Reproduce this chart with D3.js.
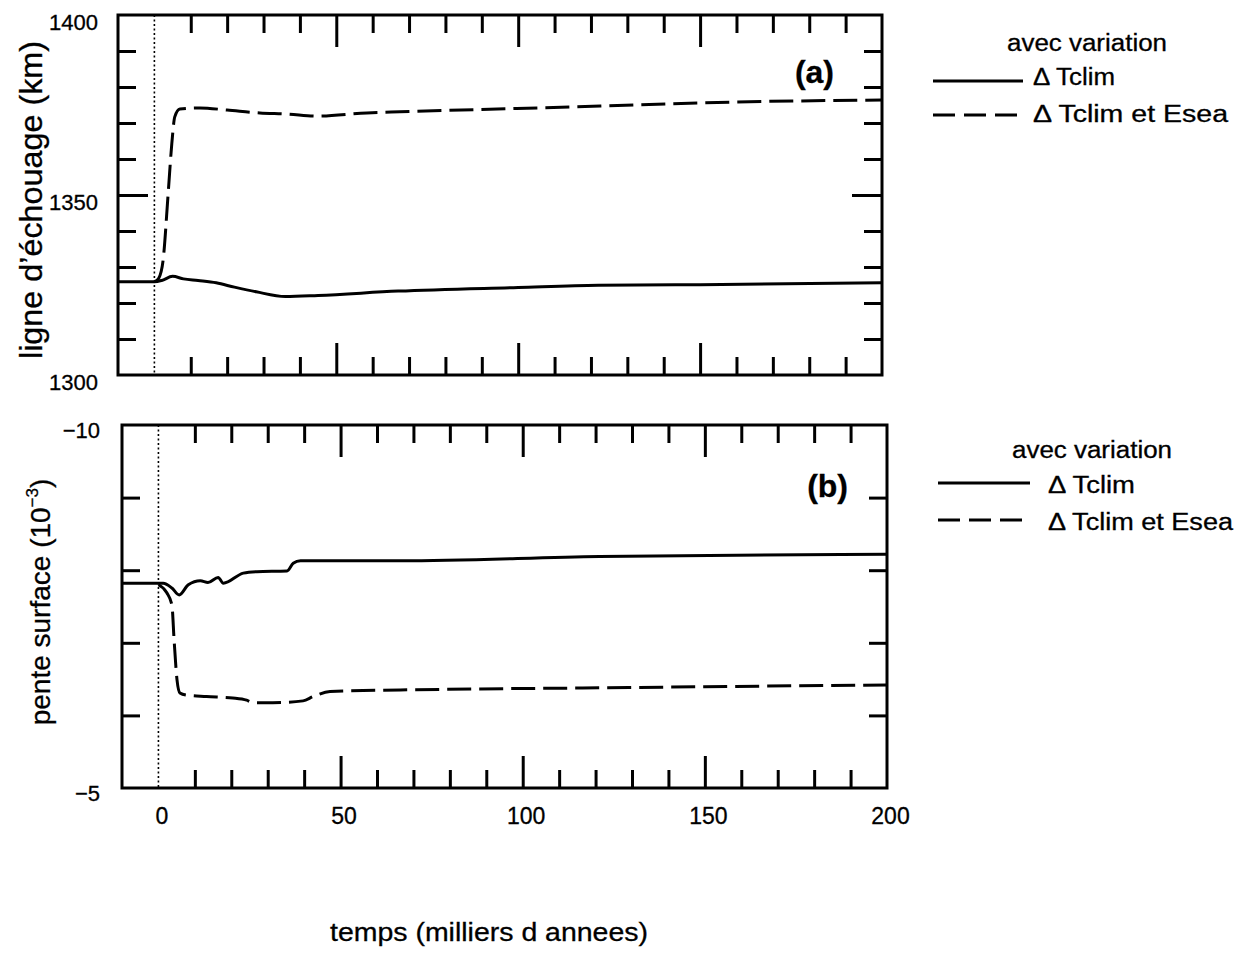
<!DOCTYPE html>
<html>
<head>
<meta charset="utf-8">
<script src="https://cdn.jsdelivr.net/npm/d3@7/dist/d3.min.js"></script>
<style>
  body { margin: 0; background: #fff; }
  svg text { font-family: "Liberation Sans", Arial, sans-serif; fill: #000; stroke: #000; stroke-width: 0.3px; }
</style>
</head>
<body>
<svg id="chart" width="1250" height="958"></svg>
<script>
// Two stacked panels sharing a time axis (thousands of years)
// (a) grounding line position, (b) surface slope

const timeDomain = [-10, 200];
const timeLabels = [0, 50, 100, 150, 200];
const timeMinorTicks = [10, 20, 30, 40, 60, 70, 80, 90, 110, 120, 130, 140, 160, 170, 180, 190];
const timeMajorTicks = [50, 100, 150];

const legendTitle = 'avec variation';
const seriesNames = ['\u0394 Tclim', '\u0394 Tclim et Esea'];
const panelTags = ['(a)', '(b)'];

// panel (a): ligne d'echouage (km)
const groundTicksMinor = [1310, 1320, 1330, 1340, 1360, 1370, 1380, 1390];
const groundTicksMajor = [1350];
const groundLabels = [1300, 1350, 1400];
const groundTclimT = [-10, 0, 2, 5, 8, 12, 17, 22, 28, 36, 45, 67, 100, 122, 150, 200];
const groundTclimV = [1325.9, 1325.9, 1326.25, 1327.4, 1326.7, 1326.25, 1325.6, 1324.4, 1323.1, 1321.8, 1322.1, 1323.3, 1324.3, 1324.9, 1325.1, 1325.6];
const groundEseaT = [0, 1.2, 2.4, 3.8, 4.8, 5.6, 7, 12.5, 20, 29, 36.5, 44.7, 58.4, 67.5, 122.6, 150, 200];
const groundEseaV = [1325.9, 1326.9, 1331.9, 1350.6, 1364.4, 1371.7, 1373.9, 1374.2, 1373.6, 1372.8, 1372.5, 1371.9, 1372.8, 1373.1, 1374.7, 1375.6, 1376.4];

// panel (b): pente surface (10^-3)
const slopeTicks = [-9, -8, -7, -6];
const slopeLabels = [-10, -5];
const slopeTclimT = [-10, 1.3, 3.7, 5.7, 8.2, 11.5, 13.6, 16.4, 17.8, 23.3, 27, 35.3, 37, 39, 66.5, 121, 200];
const slopeTclimV = [-7.82, -7.82, -7.755, -7.66, -7.80, -7.855, -7.83, -7.90, -7.82, -7.96, -7.98, -7.99, -8.095, -8.13, -8.13, -8.19, -8.22];
const slopeEseaT = [0, 2.3, 3.7, 4.3, 5.1, 5.9, 7.7, 13.2, 20.4, 24.2, 25.9, 31.4, 39.7, 42.5, 47.1, 66.4, 122, 200];
const slopeEseaV = [-7.80, -7.69, -7.52, -7.04, -6.49, -6.31, -6.28, -6.26, -6.24, -6.21, -6.175, -6.175, -6.20, -6.26, -6.33, -6.35, -6.38, -6.42];

const svg = d3.select('#chart');
const fmt = d3.format('d');

const panels = [
  {
    left: 118, top: 15, width: 764, height: 360,
    yDomain: [1300, 1400], yMinor: groundTicksMinor, yMajor: groundTicksMajor,
    yLabels: groundLabels, labelPad: 20, labelShift: 7,
    series: [[groundTclimT, groundTclimV], [groundEseaT, groundEseaV]],
    title: "ligne d\u2019\u00e9chouage (km)", titleX: 42, titleSize: 32, titleLen: 318,
    tag: panelTags[0], tagX: 834, tagY: 83,
    legend: { x: 933, titleX: 1007, titleY: 51, textX: 1033, rows: [85, 122], lineY: [81, 115], lineEnd: [1023, 1019], lens: [82, 195] },
    xLabels: false
  },
  {
    left: 122, top: 425, width: 765, height: 363,
    yDomain: [-5, -10], yMinor: slopeTicks, yMajor: [],
    yLabels: slopeLabels, labelPad: 22, labelShift: 5,
    series: [[slopeTclimT, slopeTclimV], [slopeEseaT, slopeEseaV]],
    title: null, titleX: 50, titleSize: 28, titleLen: 255,
    tag: panelTags[1], tagX: 848, tagY: 497,
    legend: { x: 938, titleX: 1012, titleY: 458, textX: 1048, rows: [493, 530], lineY: [483, 520], lineEnd: [1030, 1023], lens: [87, 185] },
    xLabels: true
  }
];

function noDomain(g) { g.select('.domain').remove(); }

panels.forEach((p, i) => {
  const g = svg.append('g').attr('transform', `translate(${p.left},${p.top})`);
  const x = d3.scaleLinear().domain(timeDomain).range([0, p.width]);
  const y = d3.scaleLinear().domain(p.yDomain).range([p.height, 0]);

  // inward ticks on all four sides
  const tickSets = [
    [d3.axisTop(x).tickValues(timeMinorTicks), 0, 18],
    [d3.axisTop(x).tickValues(timeMajorTicks), 0, 32],
    [d3.axisBottom(x).tickValues(timeMinorTicks), p.height, 18],
    [d3.axisBottom(x).tickValues(timeMajorTicks), p.height, 32]
  ];
  tickSets.forEach(([ax, ty, len]) => {
    g.append('g').attr('transform', `translate(0,${ty})`)
      .call(ax.tickSize(-len).tickFormat(''))
      .call(noDomain);
  });
  [[p.yMinor, 18], [p.yMajor, 30]].forEach(([vals, len]) => {
    g.append('g').call(d3.axisLeft(y).tickValues(vals).tickSize(-len).tickFormat('')).call(noDomain);
    g.append('g').attr('transform', `translate(${p.width},0)`)
      .call(d3.axisRight(y).tickValues(vals).tickSize(-len).tickFormat('')).call(noDomain);
  });
  g.selectAll('.tick line').attr('stroke', '#000').attr('stroke-width', 3);

  // y tick labels
  const yl = g.append('g')
    .call(d3.axisLeft(y).tickValues(p.yLabels).tickSize(0).tickPadding(p.labelPad).tickFormat(fmt))
    .call(noDomain);
  yl.selectAll('text').attr('font-size', 22).attr('y', p.labelShift)
    .style('font-family', '"Liberation Sans", Arial, sans-serif');

  if (p.xLabels) {
    const xl = g.append('g').attr('transform', `translate(0,${p.height})`)
      .call(d3.axisBottom(x).tickValues(timeLabels).tickSize(0).tickPadding(20).tickFormat(fmt))
      .call(noDomain);
    xl.selectAll('text').attr('font-size', 23).attr('dx', 3)
      .style('font-family', '"Liberation Sans", Arial, sans-serif');
  }

  // dotted reference at t = 0
  g.append('line')
    .attr('x1', x(0)).attr('x2', x(0))
    .attr('y1', 0).attr('y2', p.height)
    .attr('stroke', '#000').attr('stroke-width', 1.6)
    .attr('stroke-dasharray', '2,2.5');

  // series
  const line = d3.line().x(d => x(d[0])).y(d => y(d[1])).curve(d3.curveMonotoneX);
  p.series.forEach(([ts, vs], k) => {
    g.append('path')
      .datum(ts.map((t, j) => [t, vs[j]]))
      .attr('d', line)
      .attr('fill', 'none')
      .attr('stroke', '#000')
      .attr('stroke-width', 3)
      .attr('stroke-linejoin', 'round')
      .attr('stroke-dasharray', k === 1 ? '24,8' : null);
  });

  // frame
  g.append('rect')
    .attr('width', p.width).attr('height', p.height)
    .attr('fill', 'none').attr('stroke', '#000').attr('stroke-width', 3);

  // panel tag
  svg.append('text')
    .attr('x', p.tagX).attr('y', p.tagY)
    .attr('text-anchor', 'end')
    .attr('font-size', 32).attr('font-weight', 'bold')
    .text(p.tag);

  // legend
  const L = p.legend;
  svg.append('text')
    .attr('x', L.titleX).attr('y', L.titleY)
    .attr('font-size', 23)
    .attr('textLength', 160).attr('lengthAdjust', 'spacingAndGlyphs')
    .text(legendTitle);
  seriesNames.forEach((name, k) => {
    svg.append('line')
      .attr('x1', L.x).attr('x2', L.lineEnd[k])
      .attr('y1', L.lineY[k]).attr('y2', L.lineY[k])
      .attr('stroke', '#000').attr('stroke-width', 3)
      .attr('stroke-dasharray', k === 1 ? '22,9' : null);
    svg.append('text')
      .attr('x', L.textX).attr('y', L.rows[k])
      .attr('font-size', 23)
      .attr('textLength', L.lens[k]).attr('lengthAdjust', 'spacingAndGlyphs')
      .text(name);
  });
});

// axis titles
svg.append('text')
  .attr('transform', `translate(${panels[0].titleX},${200}) rotate(-90)`)
  .attr('text-anchor', 'middle')
  .attr('font-size', panels[0].titleSize)
  .attr('textLength', panels[0].titleLen).attr('lengthAdjust', 'spacingAndGlyphs')
  .text(panels[0].title);

const slopeTitle = svg.append('text')
  .attr('transform', `translate(${panels[1].titleX},${602}) rotate(-90)`)
  .attr('text-anchor', 'middle')
  .attr('font-size', panels[1].titleSize);
slopeTitle.append('tspan').text('pente surface (10');
slopeTitle.append('tspan').attr('font-size', 17).attr('dy', -12).text('\u22123');
slopeTitle.append('tspan').attr('dy', 12).text(')');

svg.append('text')
  .attr('x', 489).attr('y', 941)
  .attr('text-anchor', 'middle')
  .attr('font-size', 25)
  .attr('textLength', 318).attr('lengthAdjust', 'spacingAndGlyphs')
  .text('temps (milliers d annees)');
</script>
</body>
</html>
